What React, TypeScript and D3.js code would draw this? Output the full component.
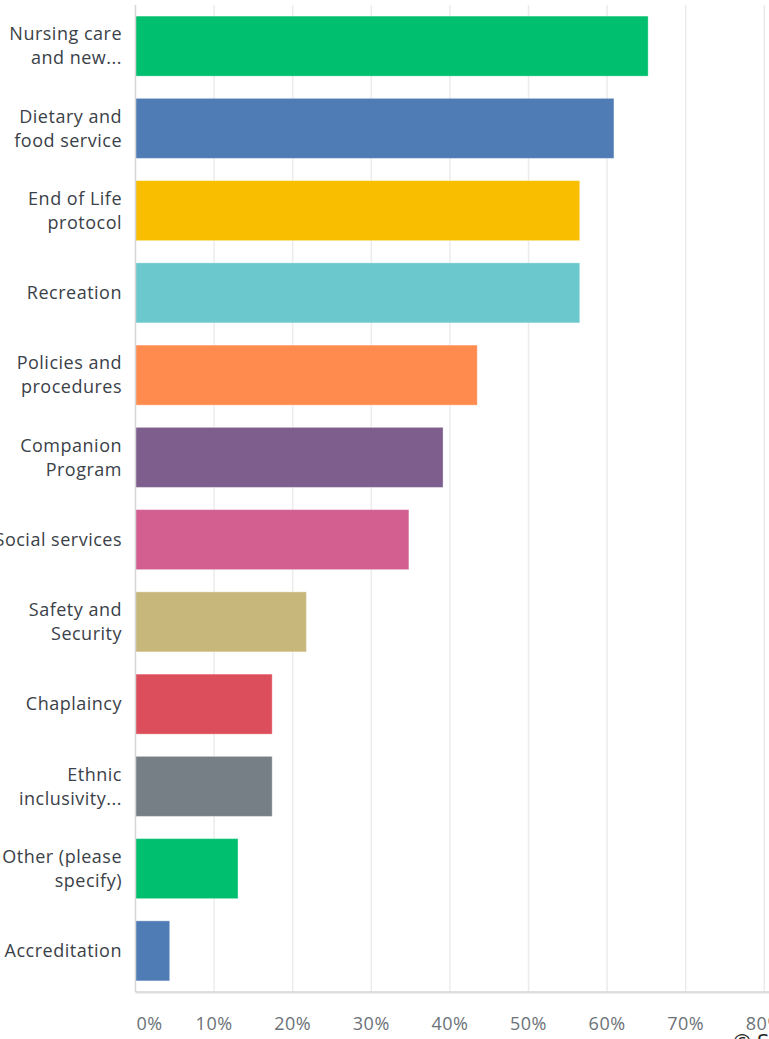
import React from "react";
import * as d3 from "d3";

const categories: string[][] = [
  ["Nursing care", "and new..."],
  ["Dietary and", "food service"],
  ["End of Life", "protocol"],
  ["Recreation"],
  ["Policies and", "procedures"],
  ["Companion", "Program"],
  ["Social services"],
  ["Safety and", "Security"],
  ["Chaplaincy"],
  ["Ethnic", "inclusivity..."],
  ["Other (please", "specify)"],
  ["Accreditation"],
];
const values: number[] = [65.22, 60.87, 56.52, 56.52, 43.48, 39.13, 34.78, 21.74, 17.39, 17.39, 13.04, 4.35];
const colors: string[] = [
  "#00BF6F", "#507CB6", "#F9BE00", "#6BC8CD", "#FF8B4F", "#7D5E8D",
  "#D25F90", "#C8B77B", "#DC4E5C", "#767F86", "#00BF6F", "#507CB6",
];
const ticks: number[] = [0, 10, 20, 30, 40, 50, 60, 70, 80];

const W = 769;
const H = 1039;
const left = 135.5;
const top = 5;
const bottom = 992;

export default function App() {
  const x = d3.scaleLinear().domain([0, 80]).range([left, left + 8 * 78.6]);
  const y = d3
    .scaleBand<number>()
    .domain(d3.range(values.length))
    .range([top, bottom])
    .paddingInner(0.27)
    .paddingOuter(0.135);
  const font = "'Open Sans', 'Noto Sans', sans-serif";
  return (
    <svg
      width={W}
      height={H}
      style={{ position: "absolute", left: 0, top: 0, background: "#fff" }}
    >
      {ticks.slice(1).map((t) => (
        <line key={t} x1={x(t)} x2={x(t)} y1={top} y2={bottom} stroke="#ebebeb" strokeWidth={1.5} />
      ))}
      {values.map((v, i) => (
        <rect
          key={i}
          x={x(0)}
          y={y(i)!}
          width={x(v) - x(0)}
          height={y.bandwidth()}
          fill={colors[i]}
          stroke="rgba(255,255,255,0.35)"
          strokeWidth={1}
        />
      ))}
      <line x1={left} x2={left} y1={top} y2={bottom} stroke="#d5d5d5" strokeWidth={1.5} />
      <line x1={left} x2={W} y1={bottom} y2={bottom} stroke="#d5d5d5" strokeWidth={1.5} />
      <line x1={left} x2={W} y1={bottom + 1.5} y2={bottom + 1.5} stroke="#eeeeee" strokeWidth={1} />
      {categories.map((lines, i) => {
        const cy = y(i)! + y.bandwidth() / 2;
        const n = lines.length;
        return (
          <text
            key={i}
            textAnchor="end"
            fontFamily={font}
            fontSize={18}
            letterSpacing={0.5}
            fill="#3a4148"
          >
            {lines.map((l, j) => (
              <tspan key={j} x={122} y={cy + (j - (n - 1) / 2) * 24} dy="0.35em">
                {l}
              </tspan>
            ))}
          </text>
        );
      })}
      {ticks.map((t, i) => (
        <text
          key={t}
          x={i === 0 ? x(t) + 1 : x(t)}
          y={1024}
          dy="0.35em"
          textAnchor={i === 0 ? "start" : "middle"}
          fontFamily={font}
          fontSize={18}
          letterSpacing={0.5}
          fill="#6b7278"
        >
          {t}%
        </text>
      ))}
      <text x={733} y={1050} fontFamily={font} fontSize={22} fill="#222">
        © SurveyMonkey
      </text>
    </svg>
  );
}
